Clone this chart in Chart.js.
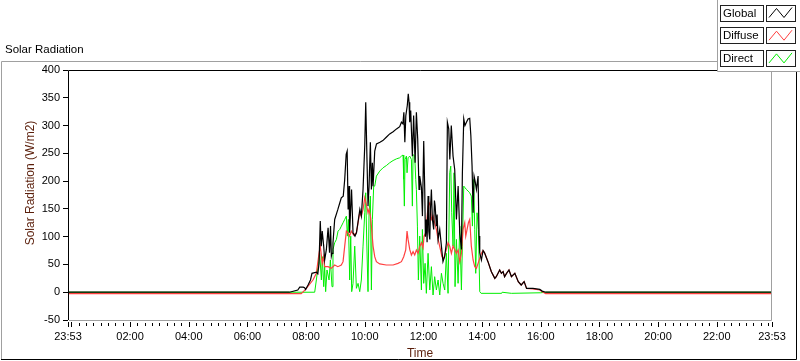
<!DOCTYPE html>
<html>
<head>
<meta charset="utf-8">
<script src="https://cdn.jsdelivr.net/npm/chart.js@4.4.0/dist/chart.umd.min.js"></script>
<style>
html, body { margin:0; padding:0; background:#fff; }
canvas { display:block; }
</style>
</head>
<body>
<canvas id="solar_chart" width="800" height="361"></canvas>
<script>
// x axis: minutes from midnight (23:53 of the day before -> 23:53)
const x_min = -7;
const x_max = 1433;
const tick_times  = [-7, 120, 240, 360, 480, 600, 720, 840, 960, 1080, 1200, 1320, 1433];
const tick_labels = ['23:53','02:00','04:00','06:00','08:00','10:00','12:00','14:00','16:00','18:00','20:00','22:00','23:53'];

// Global (W/m2)
const global_time  = [-7,446,463,467,474,477,479,484,489,492,501,504,506.5,509,511,513,516,518,521.5,525,528,530,531.7,533,535,538.5,545,549,552,556,559,562,564,566,568,569,573,576,580,583,586,590,593,596.5,600,602,604.7,606.7,608.8,611.5,613.6,615.6,617,620.4,624,631,637,644,651,658,665,671.5,675,678,680,682,684,687,689,690.6,692,694,697.4,700,703,705.6,708.3,711,712.4,716,718,720.6,722.7,724,726,727.5,729.5,731,733,734.5,736.3,738.4,741,742.5,744,746.5,748,750,753.4,756.8,760,763.6,767,769,771.8,774,777,780.6,784,787.5,791,794.3,797.7,799.7,802.5,805,808,811.3,814.7,817,819.5,821.6,823.6,825.7,828.4,831.8,833.8,835.2,838.6,842,845,852,859,866,869,876,879.5,883,886,890,895,900,907,914,920,926,931,944,958,963,970,1433];
const global_value = [0,0,4,9,9,8,5,13,22,34,36,33,52,128,83,110,83,58,77,116,71,119,65,70,89,131,149,161,170,173,203,248,254,149,191,107,185,107,101,107,125,149,137,185,264,342,233,155,191,270,185,233,191,254,267,270,273,279,285,289,294,298,306,303,324,270,318,336,357,342,306,327,245,318,233,324,276,185,209,188,137,272,185,100,131,90,173,110,95,150,185,131,113,165,155,119,140,95,113,83,55,65,89,306,294,239,300,245,221,131,191,107,77,215,312,300,306,312,313,282,227,143,209,200,185,209,101,71,58,75,71,55,37,25,28,40,34,37,28,34,40,28,34,19,13,19,7,7,5,2,0,0];

// Diffuse (W/m2)
const diffuse_time  = [-7,470,479,494,501,506.5,509,513,516,518,525,531.7,538.5,545,552,555.6,559,562.4,565.8,569,572.6,577.4,583,589.7,593,596.5,600,604,606.7,608.8,611.5,613.6,617,620.4,623.8,630.6,644,658,668,675,679.7,683.8,686.5,688.6,692,695.4,698.8,702.2,705.6,709,712.4,716,719.3,721.3,724.7,729.5,733,736.3,739.7,743,746.5,750,753.4,758,761.5,767,770.4,773.8,777.2,780.6,784,787.5,790.9,794.3,797.7,801,804.5,806.6,809.3,812,814.7,818,821.6,825,828.4,831.8,835.2,838.6,842,845,852,859,866,869,876,879.5,883,886,890,895,900,907,914,920,926,931,944,958,963,970,1433];
const diffuse_value = [-2.5,-2.5,5,22,34,70,83,52,64,46,46,43,49,46,49,55,83,110,107,101,110,103,107,143,137,149,170,155,143,149,137,119,83,64,55,51,49,49,52,55,64,76,110,95,77,67,73,67,76,70,82,89,80,101,107,155,161,131,137,125,113,95,82,64,61,77,89,83,70,83,77,70,76,55,70,113,125,101,113,125,131,83,58,46,43,52,61,70,75,71,55,37,25,28,40,34,37,28,34,40,28,34,19,13,19,7,6,4,1,-2.5,-2.5];

// Direct (W/m2)
const direct_time  = [-7,497.6,501,504.4,507.8,511.3,513.3,516,518,520,522.8,527,529.7,533,535,538.5,542,545.4,548.8,552.2,555.6,559,562.4,564.4,566.5,569.2,571.3,573.3,576,579.5,582.9,586.3,589.7,593,596.5,600,602,604,606.7,608.8,611.5,613.6,615.6,618.3,620.4,623.8,630.6,637.4,644.2,651,657.9,664.7,671.5,675,678.3,679.7,681,682.4,685.2,686.5,688.6,692,695.4,697.4,698.8,702.2,704.3,705.6,707.7,709.7,712.4,715.9,717.9,720.6,723.4,726,729.5,733,736.3,739.7,743,746.5,750,753.4,756.8,760.2,763.6,767,770.4,773.8,775.9,777.9,780.6,782.7,784.7,787.5,790.9,794.3,797.7,799.7,802.5,805.2,808,811.3,814.7,818,820.2,823,825,827,829.7,832.5,835.2,838,880,881,900,960,970,1433];
const direct_value = [0,0,22,46,70,22,64,10,46,1,40,22,58,10,77,89,95,110,113,119,125,131,137,101,131,22,101,1,16,83,7,16,1,22,83,143,179,94,1,143,173,4,131,191,191,209,218,224,228,233,237,240,242,245,247,203,155,239,245,215,242,245,239,155,248,245,203,185,119,22,101,4,113,16,52,-2,70,4,46,-5,28,4,22,-5,34,16,4,70,-2,215,227,143,83,215,10,95,16,119,4,83,191,188,185,182,179,173,119,203,113,34,143,113,1,-2,-2,0,-2,-1,0,0];

function to_points(times, values) {
	return times.map((t, i) => ({ x: t, y: values[i] }));
}

const font_family = "'Liberation Sans', Arial, sans-serif";
const series_colors = ['#000000', '#ff4040', '#00ee00'];
const series_names = ['Global', 'Diffuse', 'Direct'];

// frame, titles, x ticks and legend (LabVIEW look)
const frame_plugin = {
	id: 'frame',
	afterDraw(chart) {
		const ctx = chart.ctx;
		const area = chart.chartArea;
		const xs = chart.scales.x;
		ctx.save();
		ctx.lineWidth = 1;

		// outer frame
		ctx.strokeStyle = '#a0a0a0';
		ctx.beginPath();
		ctx.moveTo(1.5, 359); ctx.lineTo(1.5, 61.5); ctx.lineTo(720, 61.5);
		ctx.stroke();
		ctx.strokeStyle = '#000';
		ctx.beginPath();
		ctx.moveTo(1, 359.5); ctx.lineTo(796.5, 359.5); ctx.lineTo(796.5, 72);
		ctx.stroke();

		// plot area border
		ctx.strokeStyle = '#000';
		ctx.beginPath();
		ctx.moveTo(area.left + 0.5, area.bottom); ctx.lineTo(area.left + 0.5, area.top + 0.5); ctx.lineTo(area.right, area.top + 0.5);
		ctx.stroke();
		ctx.strokeStyle = '#a0a0a0';
		ctx.beginPath();
		ctx.moveTo(area.right - 0.5, area.top + 1); ctx.lineTo(area.right - 0.5, area.bottom + 0.5); ctx.lineTo(area.left + 1, area.bottom + 0.5);
		ctx.stroke();

		// x ticks, minor every 15 min, major every 2 h
		ctx.strokeStyle = '#000';
		ctx.beginPath();
		const marks = [x_min];
		for (let m = 0; m <= x_max; m += 15) marks.push(m);
		marks.push(x_max);
		marks.forEach(m => {
			const px = Math.round(xs.getPixelForValue(m)) + 0.5;
			const major = (m % 120 === 0) || m === x_min || m === x_max;
			ctx.moveTo(px, major ? 322 : 323);
			ctx.lineTo(px, major ? 327 : 326);
		});
		ctx.stroke();

		// titles
		ctx.fillStyle = '#000';
		ctx.font = '11.5px ' + font_family;
		ctx.textAlign = 'left';
		ctx.textBaseline = 'middle';
		ctx.fillText('Solar Radiation', 5, 50);

		ctx.fillStyle = '#5a1e0a';
		ctx.font = '12px ' + font_family;
		ctx.textAlign = 'center';
		ctx.fillText('Time', (area.left + area.right) / 2, 354);
		ctx.save();
		ctx.translate(31, 183);
		ctx.rotate(-Math.PI / 2);
		ctx.fillText('Solar Radiation (W/m2)', 0, 0);
		ctx.restore();

		// legend
		ctx.fillStyle = '#fff';
		ctx.fillRect(717, 0, 83, 72);
		ctx.strokeStyle = '#a0a0a0';
		ctx.beginPath();
		ctx.moveTo(717.5, 0); ctx.lineTo(717.5, 71.5); ctx.lineTo(800, 71.5);
		ctx.stroke();
		series_names.forEach((name, i) => {
			const y0 = 4.5 + i * 22.7;
			ctx.strokeStyle = '#202020';
			ctx.strokeRect(720.5, Math.round(y0) + 0.5, 43, 16);
			ctx.strokeRect(766.5, Math.round(y0) + 0.5, 29, 16);
			ctx.fillStyle = '#000';
			ctx.font = '11.5px ' + font_family;
			ctx.textAlign = 'left';
			ctx.fillText(name, 723, Math.round(y0) + 9);
			ctx.strokeStyle = series_colors[i];
			ctx.beginPath();
			ctx.moveTo(769, y0 + 13);
			ctx.lineTo(776.5, y0 + 4);
			ctx.lineTo(784, y0 + 13);
			ctx.lineTo(792, y0 + 3);
			ctx.stroke();
		});
		ctx.restore();
	}
};

const ctx_solar = document.getElementById('solar_chart').getContext('2d');
const solar_chart = new Chart(ctx_solar, {
	type: 'line',
	plugins: [frame_plugin],
	data: {
		datasets: [
			{ label: 'Global',  data: to_points(global_time, global_value),   borderColor: series_colors[0], borderWidth: 1.2 },
			{ label: 'Diffuse', data: to_points(diffuse_time, diffuse_value), borderColor: series_colors[1], borderWidth: 1.2 },
			{ label: 'Direct',  data: to_points(direct_time, direct_value),   borderColor: series_colors[2] }
		]
	},
	options: {
		responsive: false,
		animation: false,
		devicePixelRatio: 1,
		layout: { padding: { left: 0, right: 28, top: 70, bottom: 0 } },
		elements: {
			line: { borderWidth: 1, tension: 0, fill: false },
			point: { radius: 0, hoverRadius: 0 }
		},
		scales: {
			x: {
				type: 'linear',
				min: x_min,
				max: x_max,
				grid: { display: false },
				border: { display: false },
				afterBuildTicks: (scale) => { scale.ticks = tick_times.map(v => ({ value: v })); },
				afterFit: (scale) => { scale.height = 41; },
				ticks: {
					autoSkip: false,
					maxRotation: 0,
					padding: 2,
					color: '#000',
					font: { size: 11, family: font_family },
					callback: (value, index) => tick_labels[index]
				}
			},
			y: {
				min: -50,
				max: 400,
				grid: { drawOnChartArea: false, tickLength: 5, color: '#000' },
				border: { display: false },
				afterFit: (scale) => { scale.width = 68; },
				ticks: {
					stepSize: 50,
					padding: 3,
					color: '#000',
					font: { size: 11, family: font_family }
				}
			}
		},
		plugins: {
			legend: { display: false },
			tooltip: { enabled: false }
		}
	}
});
</script>
</body>
</html>
